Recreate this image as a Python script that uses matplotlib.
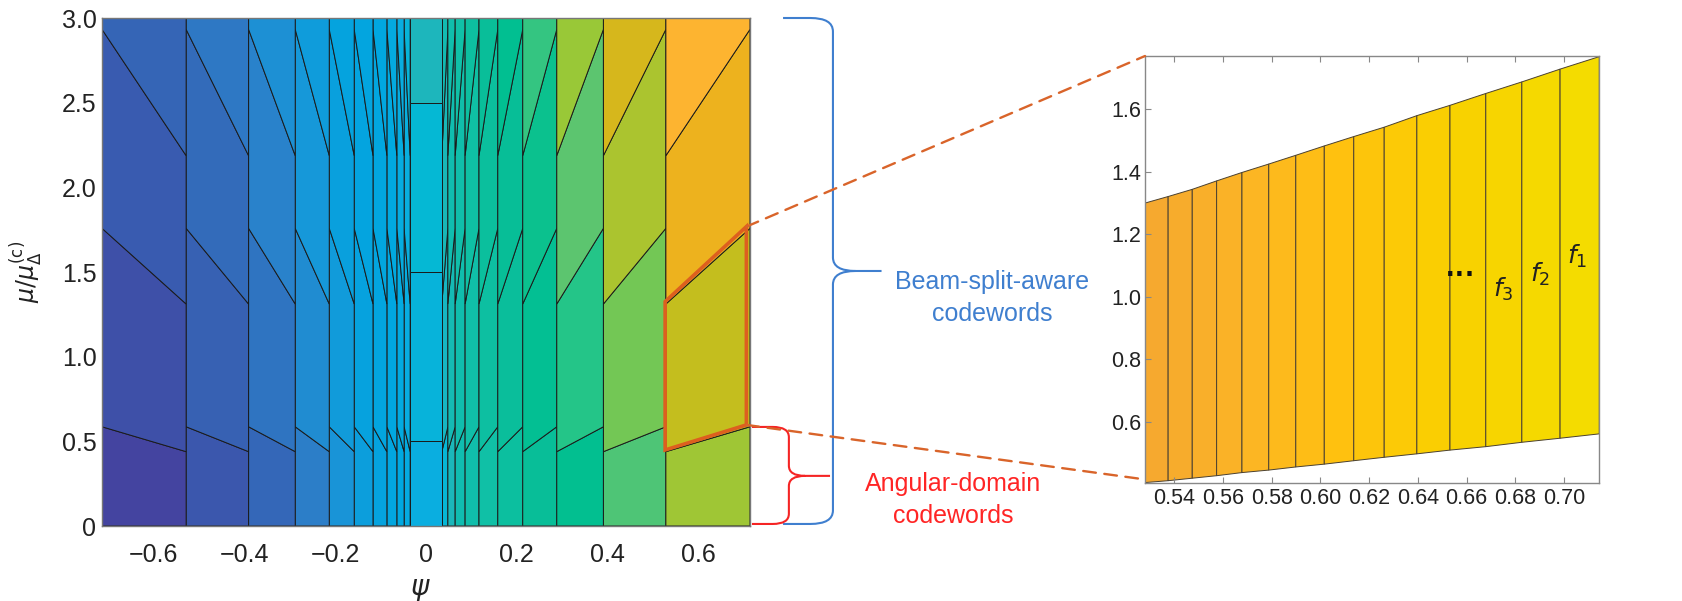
import matplotlib
matplotlib.use('Agg')
import matplotlib.pyplot as plt
from matplotlib.colors import LinearSegmentedColormap, Normalize
from matplotlib.patches import Polygon, ConnectionPatch, PathPatch
from matplotlib.path import Path
from matplotlib.transforms import blended_transform_factory

plt.rcParams['font.family'] = ['Liberation Sans', 'DejaVu Sans']

# codeword column edges for psi > 0 (the psi < 0 side is the mirror image)
col_edges = [0.0349, 0.0482, 0.0643, 0.0862, 0.1168, 0.1582, 0.2132, 0.2882, 0.3910, 0.5286, 0.7140]
# split lines inside every side column: mu at the inner edge and at the outer edge
line_mu_inner = [0.439, 1.311, 2.187]
line_mu_outer = [0.586, 1.758, 2.933]
# the centre column is split by flat lines
centre_mu = [0.5, 1.5, 2.5]
mu_max = 3.0

# codeword picked out in orange
hl_psi = [0.527, 0.527, 0.706, 0.706]
hl_mu = [0.449, 1.325, 1.768, 0.597]

# zoomed codeword: frequency strips f_K ... f_1
zoom_edges = [0.528, 0.5375, 0.5474, 0.5574, 0.5678, 0.5788, 0.5899, 0.6016, 0.6137,
              0.6262, 0.6396, 0.6532, 0.6679, 0.6827, 0.6984, 0.7145]
zoom_top = [1.300, 1.321, 1.344, 1.371, 1.398, 1.425, 1.453, 1.483, 1.513, 1.543,
            1.580, 1.613, 1.651, 1.688, 1.729, 1.769]
zoom_bot = [0.405, 0.411, 0.419, 0.427, 0.437, 0.445, 0.455, 0.464, 0.475, 0.486,
            0.497, 0.509, 0.520, 0.534, 0.547, 0.561]

x_ticks = [-0.6, -0.4, -0.2, 0, 0.2, 0.4, 0.6]
x_labels = ['\u22120.6', '\u22120.4', '\u22120.2', '0', '0.2', '0.4', '0.6']
y_ticks = [0, 0.5, 1.0, 1.5, 2.0, 2.5, 3.0]
y_labels = ['0', '0.5', '1.0', '1.5', '2.0', '2.5', '3.0']
zoom_xticks = [0.54, 0.56, 0.58, 0.60, 0.62, 0.64, 0.66, 0.68, 0.70]
zoom_yticks = [0.6, 0.8, 1.0, 1.2, 1.4, 1.6]

# colour of a region: column index + shift per mu level
level_shift = 0.6
cmap_pos = [-10, -9, -8, -7, -6, -4.5, -2, 0, 1.2, 1.8, 3, 5, 7, 8, 8.6, 9.2, 9.6, 9.8,
            10.2, 10.6, 10.8, 11.2, 11.8]
cmap_hex = ['#4444a0', '#3a58ae', '#3468b8', '#2c7ec8', '#1896d8', '#06a2de', '#00a8e0',
            '#0aaee0', '#05b8d4', '#1db6bc', '#10bcb0', '#10c0a6', '#08be98', '#00bf90',
            '#20c58a', '#5bc570', '#62c662', '#98c838', '#a6c532', '#c4be1e', '#d2b81c',
            '#edb21e', '#fdb430']
lo, hi = cmap_pos[0], cmap_pos[-1]
main_cmap = LinearSegmentedColormap.from_list(
    'codebook', [((p - lo) / (hi - lo), c) for p, c in zip(cmap_pos, cmap_hex)])
main_norm = Normalize(lo, hi)
zoom_cmap = LinearSegmentedColormap.from_list(
    'zoom', ['#f6a92f', '#fbb426', '#ffc10f', '#f9d000', '#f4dc00'])

W, H = 1683, 601
fig = plt.figure(figsize=(W / 100, H / 100), dpi=100)
ax1 = fig.add_axes([102 / W, 1 - 526 / H, 648 / W, 508 / H])
ax2 = fig.add_axes([1145 / W, 1 - 482.7 / H, 454.3 / W, 426.7 / H])

edge_kw = dict(edgecolor='#1a1a1a', linewidth=0.7)


def add_region(ax, pts, value):
    ax.add_patch(Polygon(pts, closed=True, facecolor=main_cmap(main_norm(value)), **edge_kw))


# side columns
lower_in = [0] + line_mu_inner
upper_in = line_mu_inner + [mu_max]
lower_out = [0] + line_mu_outer
upper_out = line_mu_outer + [mu_max]
for i in range(1, len(col_edges)):
    inner, outer = col_edges[i - 1], col_edges[i]
    for side in (1, -1):
        for k in range(4):
            pts = [(side * inner, lower_in[k]), (side * outer, lower_out[k]),
                   (side * outer, upper_out[k]), (side * inner, upper_in[k])]
            add_region(ax1, pts, side * i + level_shift * k)

# centre column
c_levels = [0] + centre_mu + [mu_max]
e0 = col_edges[0]
for k in range(4):
    pts = [(-e0, c_levels[k]), (e0, c_levels[k]), (e0, c_levels[k + 1]), (-e0, c_levels[k + 1])]
    add_region(ax1, pts, level_shift * k)

ax1.add_patch(Polygon(list(zip(hl_psi, hl_mu)), closed=True, fill=False,
                      edgecolor='#dd5f1f', linewidth=2.6, joinstyle='miter', zorder=5))

ax1.set_xlim(-col_edges[-1], col_edges[-1])
ax1.set_ylim(0, mu_max)
ax1.set_xticks(x_ticks, x_labels)
ax1.set_yticks(y_ticks, y_labels)
ax1.tick_params(axis='both', length=0, labelsize=18, colors='#222222')
ax1.tick_params(axis='x', pad=12)
ax1.tick_params(axis='y', pad=4)
for s in ax1.spines.values():
    s.set_color('#777777')
    s.set_linewidth(1.0)
ax1.set_ylabel(r'$\mu/\mu_{\Delta}^{(\mathrm{c})}$', fontsize=17, color='#222222')
ax1.yaxis.set_label_coords(-0.088, 0.5)
ax1.set_xlabel(r'$\psi$', fontsize=20, color='#222222')
ax1.xaxis.set_label_coords(0.491, -0.1)

# zoomed panel
for i in range(len(zoom_edges) - 1):
    pts = [(zoom_edges[i], zoom_bot[i]), (zoom_edges[i + 1], zoom_bot[i + 1]),
           (zoom_edges[i + 1], zoom_top[i + 1]), (zoom_edges[i], zoom_top[i])]
    ax2.add_patch(Polygon(pts, closed=True, facecolor=zoom_cmap(i / (len(zoom_edges) - 2)),
                          edgecolor='#4a4030', linewidth=0.7))

ax2.set_xlim(zoom_edges[0], zoom_edges[-1])
ax2.set_ylim(0.4046, 1.771)
ax2.set_xticks(zoom_xticks, ['%.2f' % v for v in zoom_xticks])
ax2.set_yticks(zoom_yticks, ['%.1f' % v for v in zoom_yticks])
ax2.tick_params(axis='both', direction='in', length=4, width=0.8, color='#888888',
                labelsize=15.5, labelcolor='#222222')
ax2.tick_params(axis='x', top=True, pad=4)
ax2.tick_params(axis='y', pad=2.5)
for s in ax2.spines.values():
    s.set_color('#888888')
    s.set_linewidth(1.0)

for label, x, y in [(r'$f_1$', 0.7054, 1.128), (r'$f_2$', 0.6902, 1.073), (r'$f_3$', 0.675, 1.022)]:
    ax2.text(x, y, label, fontsize=18, ha='center', va='center', color='#222222')
ax2.text(0.6577, 1.041, '\u00b7\u00b7\u00b7', fontsize=22, fontweight='bold',
         ha='center', va='baseline', color='#111111')

# dashed links from the picked codeword to the zoom
for xa, xb in [((hl_psi[2], hl_mu[2]), (zoom_edges[0], 1.771)),
               ((hl_psi[3], hl_mu[3]), (zoom_edges[0], 0.415))]:
    con = ConnectionPatch(xyA=xa, coordsA=ax1.transData, xyB=xb, coordsB=ax2.transData,
                          color='#d9642a', linewidth=1.7, linestyle=(0, (5.4, 3.6)))
    fig.add_artist(con)


def brace(ax, x_arm, x_spine, x_tip, y_top, y_bot, y_mid, r, dx, color):
    verts = [(x_arm, y_top), (x_spine - dx, y_top), (x_spine, y_top), (x_spine, y_top - r),
             (x_spine, y_mid + r), (x_spine, y_mid), (x_spine + dx, y_mid), (x_tip, y_mid),
             (x_spine + dx, y_mid), (x_spine, y_mid), (x_spine, y_mid - r),
             (x_spine, y_bot + r), (x_spine, y_bot), (x_spine - dx, y_bot), (x_arm, y_bot)]
    codes = [Path.MOVETO, Path.LINETO, Path.CURVE3, Path.CURVE3, Path.LINETO, Path.CURVE3,
             Path.CURVE3, Path.LINETO, Path.MOVETO, Path.CURVE3, Path.CURVE3, Path.LINETO,
             Path.CURVE3, Path.CURVE3, Path.LINETO]
    trans = blended_transform_factory(ax.transAxes, ax.transData)
    ax.add_patch(PathPatch(Path(verts, codes), fill=False, edgecolor=color, linewidth=1.5,
                           transform=trans, clip_on=False))


brace(ax1, 1.051, 1.128, 1.203, mu_max, 0.012, 1.506, 0.08, 0.035, '#3f7fcf')
brace(ax1, 1.003, 1.060, 1.1235, 0.585, 0.012, 0.296, 0.06, 0.025, '#f52424')

fig.text(992 / W, 1 - 298 / H, 'Beam-split-aware\ncodewords', fontsize=18, color='#3f7fcf',
         ha='center', va='center', linespacing=1.45)
fig.text(953 / W, 1 - 500 / H, 'Angular-domain\ncodewords', fontsize=18, color='#ff2525',
         ha='center', va='center', linespacing=1.45)

fig.savefig('out.png', dpi=100)
